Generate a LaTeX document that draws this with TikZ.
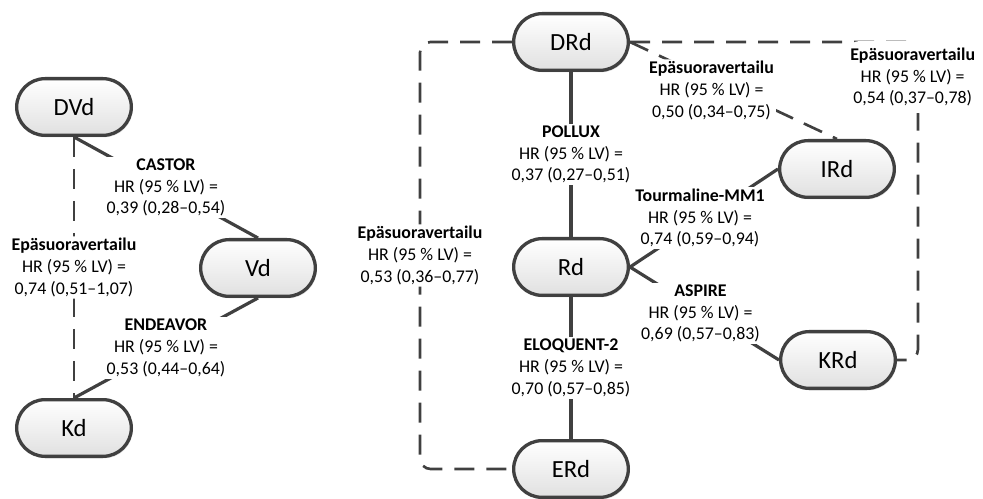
\documentclass[tikz,border=0pt]{standalone}
\usepackage{fontspec}
\setmainfont{Carlito}
\usetikzlibrary{positioning,shapes.misc,shadows}
\definecolor{edgegray}{HTML}{404040}
\tikzset{
	dnode/.style={rounded rectangle, draw=edgegray, line width=2.5pt,
		top color=white, bottom color=black!12,
		minimum width=86pt, minimum height=42.5pt, inner sep=0pt,
		font=\fontsize{18.5}{22}\selectfont,
		drop shadow={shadow xshift=1pt, shadow yshift=-1.5pt, opacity=0.2}},
	trial/.style={draw=edgegray, line width=2.4pt},
	indirect/.style={draw=edgegray, line width=2pt, dash pattern=on 15pt off 9pt, rounded corners=8pt},
	hr/.style={fill=white, align=center, inner sep=1.5pt, font=\fontsize{13.4}{16.3}\selectfont}
}
\begin{document}
\begin{tikzpicture}[x=0.75pt, y=-0.75pt, semithick]
		\useasboundingbox (0,0) rectangle (983,499);

		\node(DVd) [dnode] at (74,107)  {DVd};
		\node(Vd)  [dnode] at (258,268) {Vd};
		\node(Kd)  [dnode, below of = DVd, node distance=240.75pt] {Kd};

		\node(DRd) [dnode] at (571,42)  {DRd};
		\node(Rd)  [dnode, below of = DRd, node distance=168.75pt] {Rd};
		\node(ERd) [dnode, below of = Rd, node distance=151.5pt] {ERd};
		\node(IRd) [dnode] at (837,169) {IRd};
		\node(KRd) [dnode] at (838,360) {KRd};

		\draw[trial] (DVd.south) -- node[hr] {\textbf{CASTOR}\\HR (95 \% LV) =\\0,39 (0,28–0,54)} (Vd.north);
		\draw[trial] (Vd.south) -- node[hr] {\textbf{ENDEAVOR}\\HR (95 \% LV) =\\0,53 (0,44–0,64)} (Kd.north);
		\draw[indirect] (DVd.south) -- node[hr] {\textbf{Epäsuoravertailu}\\HR (95 \% LV) =\\0,74 (0,51–1,07)} (Kd.north);

		\draw[trial] (DRd.south) -- node[hr] {\textbf{POLLUX}\\HR (95 \% LV) =\\0,37 (0,27–0,51)} (Rd.north);
		\draw[trial] (Rd.south) -- node[hr] {\textbf{ELOQUENT-2}\\HR (95 \% LV) =\\0,70 (0,57–0,85)} (ERd.north);
		\draw[trial] (Rd.east) -- node[hr, xshift=-3pt] {\textbf{Tourmaline-MM1}\\HR (95 \% LV) =\\0,74 (0,59–0,94)} (IRd.west);
		\draw[trial] (Rd.east) -- node[hr, xshift=-3pt] {\textbf{ASPIRE}\\HR (95 \% LV) =\\0,69 (0,57–0,83)} (KRd.west);
		\draw[indirect] (DRd.east) -- node[hr, xshift=-16.5pt] {\textbf{Epäsuoravertailu}\\HR (95 \% LV) =\\0,50 (0,34–0,75)} (IRd.north);
		\draw[indirect] (DRd.west) -- ++(-92,0) |- node[hr, pos=0.25] {\textbf{Epäsuoravertailu}\\HR (95 \% LV) =\\0,53 (0,36–0,77)} (ERd.west);
		\draw[indirect] (DRd.east) -- ++(288,0) |- node[hr, pos=0.055, xshift=-4pt, inner ysep=5pt] {\textbf{Epäsuoravertailu}\\HR (95 \% LV) =\\0,54 (0,37–0,78)} (KRd.east);
	\end{tikzpicture}
\end{document}
